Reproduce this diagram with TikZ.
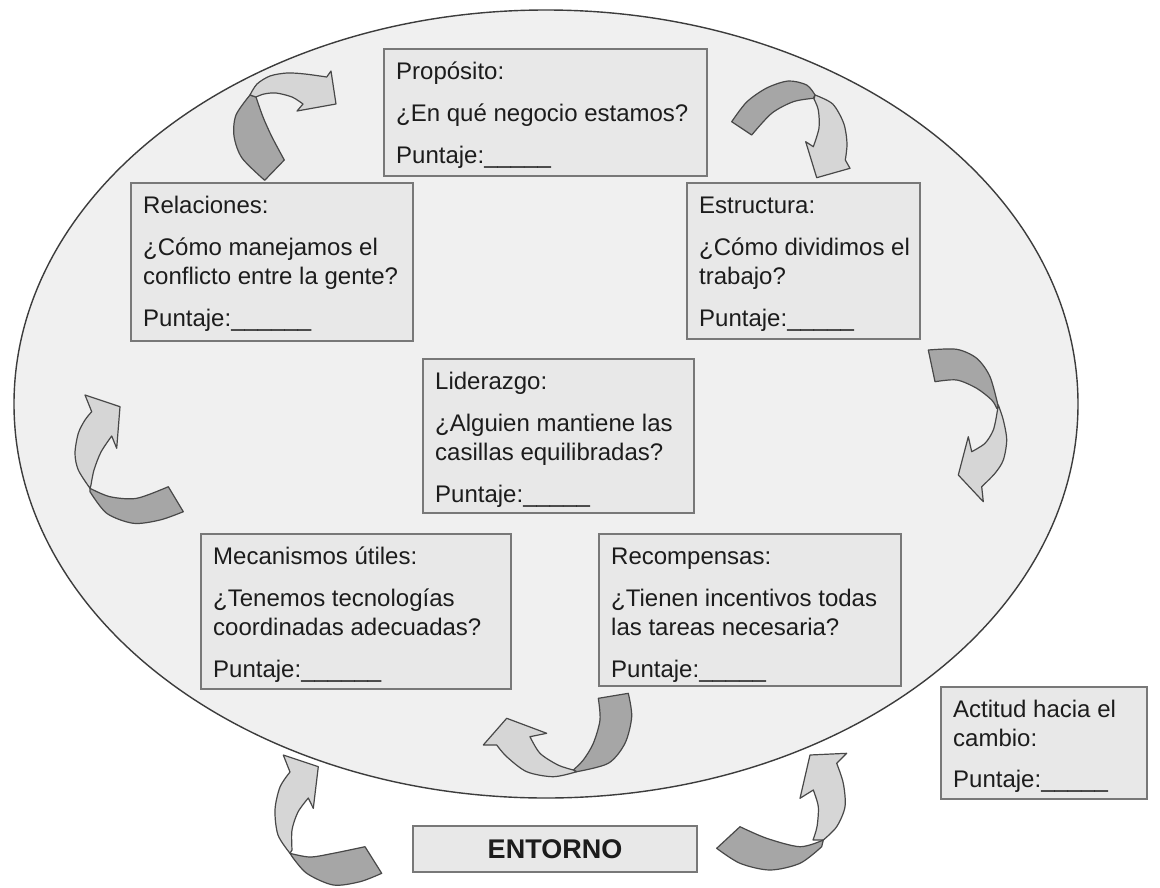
\documentclass[tikz,border=0pt]{standalone}
\usepackage{fontspec}
\setmainfont{Liberation Sans}
\usetikzlibrary{calc}
\definecolor{ellfill}{HTML}{F0F0F0}
\definecolor{ellline}{HTML}{3C3C3C}
\definecolor{boxfill}{HTML}{E8E8E8}
\definecolor{boxline}{HTML}{787878}
\definecolor{arrdark}{HTML}{A6A6A6}
\definecolor{arrlight}{HTML}{D6D6D6}
\definecolor{arrline}{HTML}{484848}
\definecolor{txtcol}{HTML}{1C1C1C}
\begin{document}
\begin{tikzpicture}[x=1pt,y=-1pt,
  box/.style={draw=boxline, fill=boxfill, line width=1.6pt, rectangle, inner sep=0pt, anchor=north west},
  txtblk/.style={anchor=north west, inner sep=0pt, align=left, text=txtcol, font=\fontsize{24}{29}\selectfont},
  darkpart/.style={fill=arrdark, draw=arrline, line width=1.2pt, line join=round},
  lightpart/.style={fill=arrlight, draw=arrline, line width=1.2pt, line join=round}]
\useasboundingbox[fill=white] (0,0) rectangle (1160,887);
% environment ellipse
\filldraw[fill=ellfill, draw=ellline, line width=1.4pt] (546,404) ellipse[x radius=532, y radius=394];
% boxes
\node[box, minimum width=323pt, minimum height=127pt] (prop) at (383,48) {};
\node[txtblk] (prop-t) at ($(prop.north west)+(13,10.7)$) {\strut Propósito:\\[13pt]¿En qué negocio estamos?\\[13pt]Puntaje:\_\_\_\_\_};
\node[box, minimum width=282pt, minimum height=158pt] (rel) at (130,182) {};
\node[txtblk] (rel-t) at ($(rel.north west)+(13,10.7)$) {\strut Relaciones:\\[13pt]¿Cómo manejamos el\\conflicto entre la gente?\\[13pt]Puntaje:\_\_\_\_\_\_};
\node[box, minimum width=233pt, minimum height=156pt] (est) at (686,182) {};
\node[txtblk] (est-t) at ($(est.north west)+(13,10.7)$) {\strut Estructura:\\[13pt]¿Cómo dividimos el\\trabajo?\\[13pt]Puntaje:\_\_\_\_\_};
\node[box, minimum width=271pt, minimum height=154pt] (lid) at (422,358) {};
\node[txtblk] (lid-t) at ($(lid.north west)+(13,10.7)$) {\strut Liderazgo:\\[13pt]¿Alguien mantiene las\\casillas equilibradas?\\[13pt]Puntaje:\_\_\_\_\_};
\node[box, minimum width=310pt, minimum height=155pt] (mec) at (200,533) {};
\node[txtblk] (mec-t) at ($(mec.north west)+(13,10.7)$) {\strut Mecanismos útiles:\\[13pt]¿Tenemos tecnologías\\coordinadas adecuadas?\\[13pt]Puntaje:\_\_\_\_\_\_};
\node[box, minimum width=302pt, minimum height=152pt] (rec) at (598,533) {};
\node[txtblk] (rec-t) at ($(rec.north west)+(13,10.7)$) {\strut Recompensas:\\[13pt]¿Tienen incentivos todas\\las tareas necesaria?\\[13pt]Puntaje:\_\_\_\_\_};
\node[box, minimum width=206pt, minimum height=112pt] (act) at (940,686) {};
\node[txtblk] (act-t) at ($(act.north west)+(13,10.7)$) {\strut Actitud hacia el\\cambio:\\[12pt]Puntaje:\_\_\_\_\_};
\node[box, anchor=center, minimum width=284pt, minimum height=46pt, text=txtcol, font=\bfseries\fontsize{27}{32}\selectfont] (ent) at (555,849) {ENTORNO};
% arrow A (top left)
\filldraw[darkpart] (264.7,180.3) -- (284.3,160) -- plot[smooth] coordinates {(284.3,160) (272,137) (263,117) (256,97)} -- (250,95) -- plot[smooth] coordinates {(250,95) (236,115) (234,136) (242,158) (264.7,180.3)} -- cycle;
\filldraw[lightpart] (250,95) -- plot[smooth] coordinates {(250,95) (257,84) (270,76) (287,73) (305,74) (326.7,77)} -- (331,71) -- (336,104) -- (297,111) -- (303,104) -- plot[smooth] coordinates {(303,104) (292,97) (276,93) (264,94) (256,97)} -- cycle;
% arrow B (top right)
\filldraw[darkpart] (731.7,121.7) -- (751.7,135) -- plot[smooth] coordinates {(751.7,135) (771.7,113.3) (793.3,101.7) (813.3,98.3)} -- (815,95) -- plot[smooth] coordinates {(815,95) (806.7,85) (788.3,81) (766.7,88) (746.7,102) (731.7,121.7)} -- cycle;
\filldraw[lightpart] (815,95) -- plot[smooth] coordinates {(815,95) (832.7,104) (843.7,123.3) (847,143.3) (845.3,160)} -- (850,168.3) -- (816.7,177.7) -- (805.7,141.7) -- (813.3,146.7) -- plot[smooth] coordinates {(813.3,146.7) (819,128) (818.3,110) (814,99)} -- cycle;
% arrow C (right)
\filldraw[darkpart] (935,381.7) -- (928.3,350) -- plot[smooth] coordinates {(928.3,350) (956.7,349.3) (976.7,358.3) (990,376.7) (998.3,406.7)} -- plot[smooth] coordinates {(996.7,408.3) (991.7,400) (976.7,388.3) (956.7,380) (935,381.7)} -- cycle;
\filldraw[lightpart] (998.3,405) -- plot[smooth] coordinates {(998.3,405) (1003.3,420) (1006.7,440) (1003.3,460) (995,473.3) (981.7,486.7)} -- (983.3,501.7) -- (958.3,475) -- (968.3,436.7) -- (971.7,451.7) -- plot[smooth] coordinates {(971.7,451.7) (985,443.3) (993.3,430) (997,413)} -- cycle;
% arrow D (left)
\filldraw[lightpart] (90,488.3) -- plot[smooth] coordinates {(90,488.3) (78.3,470) (75,453.3) (78.3,433.3) (85,420) (91.7,411.7)} -- (85,395) -- (120,406.7) -- (116.7,448.3) -- (111.7,436) -- plot[smooth] coordinates {(111.7,436) (101,452) (94,470) (91,485)} -- cycle;
\filldraw[darkpart] (90,488.3) -- plot[smooth] coordinates {(90,488.3) (110,496.7) (136.7,498.3) (168.3,486.7)} -- (183.3,511.7) -- plot[smooth] coordinates {(183.3,511.7) (160,520) (133.3,523.3) (106.7,513.3) (90,491.7)} -- cycle;
% arrow E (bottom centre)
\filldraw[darkpart] (598.3,698.3) -- (628.3,693.3) -- plot[smooth] coordinates {(628.3,693.3) (631.7,716.7) (625,743.3) (608.3,763.3) (576.7,771.7)} -- plot[smooth] coordinates {(573.3,770) (583.3,760) (593.3,743.3) (600,720) (598.3,698.3)} -- cycle;
\filldraw[lightpart] (576.7,771.7) -- plot[smooth] coordinates {(576.7,771.7) (553.3,776.7) (526.7,771.7) (506.7,756.7) (496.7,745)} -- (483.3,745) -- (506.7,718.3) -- (546.7,733.3) -- (530,736.7) -- plot[smooth] coordinates {(530,736.7) (540,753.3) (558,765) (573.3,770)} -- cycle;
% arrow F (bottom left)
\filldraw[lightpart] (290,853.3) -- plot[smooth] coordinates {(290,853.3) (278,835) (275,810) (280,787) (290,772)} -- (283.3,755) -- (318.3,766.7) -- (313.3,808.3) -- (308.3,798) -- plot[smooth] coordinates {(308.3,798) (298,812) (292,830) (292,850)} -- cycle;
\filldraw[darkpart] (290,853.3) -- plot[smooth] coordinates {(290,853.3) (310,857) (333.3,853.3) (365,846.7)} -- (381.7,873.3) -- plot[smooth] coordinates {(381.7,873.3) (360,881.7) (333.3,885) (306.7,873.3) (291.7,856)} -- cycle;
% arrow G (bottom right)
\filldraw[lightpart] (823.3,840) -- plot[smooth] coordinates {(823.3,840) (836.7,826.7) (845,806.7) (843.3,783.3) (836.7,763.3)} -- (846.7,753.3) -- (810,755) -- (800,798.3) -- (813.3,790) -- plot[smooth] coordinates {(813.3,790) (818.3,806.7) (817,826.7) (813,840)} -- cycle;
\filldraw[darkpart] (823.3,840) -- plot[smooth] coordinates {(823.3,840) (800,846.7) (766.7,838.3) (740,826.7)} -- (716.7,848.3) -- plot[smooth] coordinates {(716.7,848.3) (740,863.3) (770,870) (800,863.3) (821.7,846.7)} -- cycle;
\end{tikzpicture}
\end{document}
